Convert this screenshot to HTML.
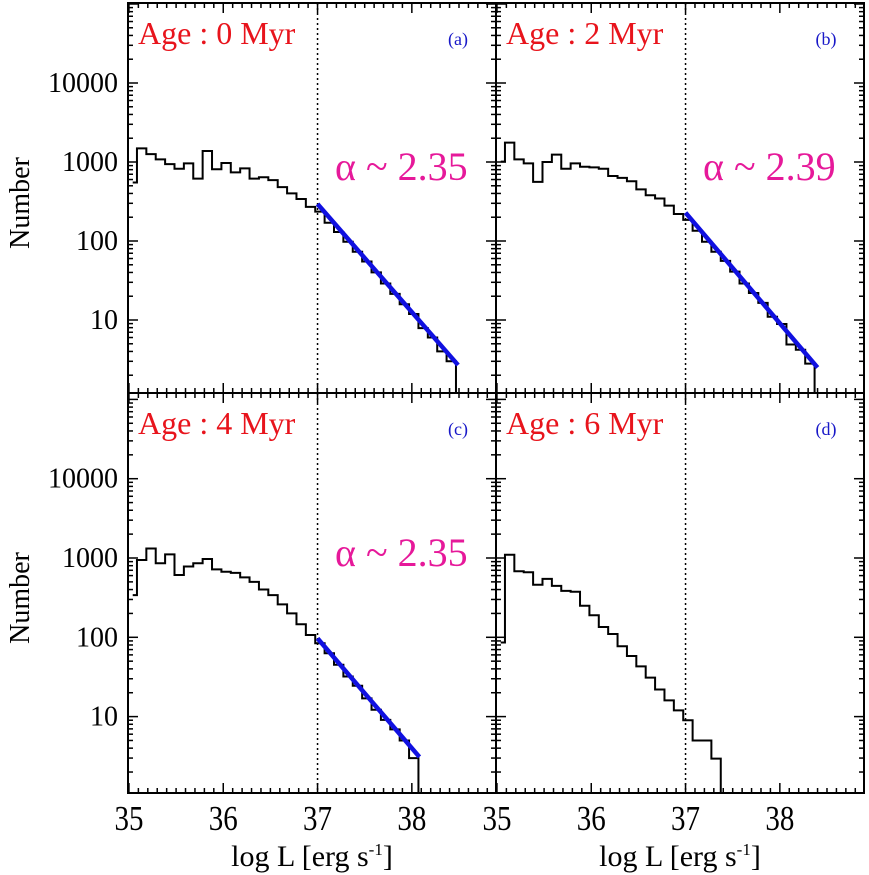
<!DOCTYPE html>
<html><head><meta charset="utf-8"><style>
html,body{margin:0;padding:0;background:#fff}
svg{display:block;font-family:"Liberation Serif","DejaVu Serif",serif}
text{font-family:"Liberation Serif","DejaVu Serif",serif}
</style></head><body>
<svg id="chart" width="869" height="875" viewBox="0 0 869 875" xmlns="http://www.w3.org/2000/svg"></svg>
<script>
const edgeStart = 35.04;
const edgeSecond = 35.085;
const binWidth = 0.0995;
const countsA = [550,1490,1260,1080,940,820,960,615,1380,810,970,740,830,615,640,590,480,400,340,270,235,170,130,98,73,55,40,29,21.4,15.8,11.9,7.9,6.0,4.0,3.0];
const countsB = [1010,1760,1080,960,560,1000,1240,820,960,870,855,820,665,630,570,450,380,345,280,220,185,135,98,73,56,41,29,22,16.5,11,8.9,4.9,4.2,2.8];
const countsC = [340,945,1320,860,1110,610,780,860,970,720,670,650,570,500,400,340,260,200,146,107,84,63,45,32,24.5,17,12.2,9.1,6.9,5.0,3.0];
const countsD = [86,1100,680,660,460,545,445,385,375,250,190,135,110,77,58,43,31,22,16,12,9,5.0,5.0,2.95];
const fitA = [37, 294, 38.49, 2.69];
const fitB = [37, 228, 38.40, 2.5];
const fitC = [37, 97, 38.08, 3.1];
const ages = ["Age : 0 Myr","Age : 2 Myr","Age : 4 Myr","Age : 6 Myr"];
const tags = ["(a)","(b)","(c)","(d)"];
const alphas = ["α ~ 2.35","α ~ 2.39","α ~ 2.35",""];
const yTicks = [10, 100, 1000, 10000];
const yTickLabels = ["10","100","1000","10000"];
const xTicks = [35, 36, 37, 38];
const xTickLabels = ["35","36","37","38"];
const cutoff = 37;

const NS = "http://www.w3.org/2000/svg";
const svg = document.getElementById('chart');
const FF = '"Liberation Serif","DejaVu Serif",serif';
function mk(tag, attrs, parent){const e=document.createElementNS(NS,tag);for(const k in attrs)e.setAttribute(k,attrs[k]);if(tag==='text')e.setAttribute('font-family',FF);(parent||svg).appendChild(e);return e;}

const XMIN = 34.99, PXU = 94.3, PW = 368;
const cols = [128, 496];
const rows = [{top:3,bot:393,ref:162,dec:79},{top:393,bot:793,ref:558,dec:79.3}];
const panels = [
 {c:0,r:0,counts:countsA,fit:fitA},
 {c:1,r:0,counts:countsB,fit:fitB},
 {c:0,r:1,counts:countsC,fit:fitC},
 {c:1,r:1,counts:countsD,fit:null}];

panels.forEach((p,i)=>{
  const x0 = cols[p.c], R = rows[p.r];
  const xs = v => x0 + (v - XMIN) * PXU;
  const ys = v => R.ref - R.dec * (Math.log10(v) - 3);
  const g = mk('g',{});
  
  
  const dl = mk('line',{x1:xs(cutoff),x2:xs(cutoff),y1:R.top,y2:R.bot,stroke:'#000','stroke-width':1.5,'stroke-dasharray':'2,3'},g);
  
  
  const edges = [edgeStart];
  for(let k=0;k<p.counts.length;k++) edges.push(edgeSecond + k*binWidth);
  let d = 'M'+xs(edges[0])+','+ys(p.counts[0]);
  p.counts.forEach((v,k)=>{ if(k>0) d+=' V'+ys(v); d+=' H'+xs(edges[k+1]); });
  d += ' V'+R.bot;
  const h = mk('path',{d:d,fill:'none',stroke:'#000','stroke-width':2},g);
  
  
  if(p.fit){
    const f = mk('line',{x1:xs(p.fit[0]),y1:ys(p.fit[1]),x2:xs(p.fit[2]),y2:ys(p.fit[3]),stroke:'#1010e0','stroke-width':4.5},g);
    
    
  }
  const fr = mk('rect',{x:x0,y:R.top,width:PW,height:R.bot-R.top,fill:'none',stroke:'#000','stroke-width':2},g);
  
  
  for(let t=350;t<=389;t++){
    const v=t/10, x=xs(v); if(x>x0+PW-1) break;
    const L = (t%10===0)?10:5;
    mk('line',{x1:x,x2:x,y1:R.bot,y2:R.bot-L,stroke:'#000','stroke-width':1.5},g);
    mk('line',{x1:x,x2:x,y1:R.top,y2:R.top+L,stroke:'#000','stroke-width':1.5},g);
  }
  for(let e=0;e<=5;e++){for(let m=1;m<=9;m++){
    const v=m*Math.pow(10,e), y=ys(v); if(y<R.top+1||y>R.bot-1) continue;
    const L=(m===1)?10:5;
    mk('line',{x1:x0,x2:x0+L,y1:y,y2:y,stroke:'#000','stroke-width':1.5},g);
    mk('line',{x1:x0+PW,x2:x0+PW-L,y1:y,y2:y,stroke:'#000','stroke-width':1.5},g);
  }}
  if(p.c===0){
    yTicks.forEach((v,k)=>{
      const t=mk('text',{x:118,y:ys(v)+9,'font-size':28,'text-anchor':'end',fill:'#000'},g);
      t.textContent=yTickLabels[k];
      
      
    });
    const yl=mk('text',{x:0,y:0,'font-size':28,'text-anchor':'middle',fill:'#000',transform:'translate(29,'+((R.top+R.bot)/2+5)+') rotate(-90)'},g);
    yl.textContent='Number';
    
    
  }
  if(p.r===1){
    xTicks.forEach((v,k)=>{
      const t=mk('text',{x:0,y:0,'font-size':29,'text-anchor':'middle',fill:'#000',transform:'translate('+xs(v)+',830) scale(1,1.2)'},g);
      t.textContent=xTickLabels[k];
      
      
    });
    const xl=mk('text',{x:x0+184,y:866,'font-size':30,'text-anchor':'middle',fill:'#000'},g);
    xl.innerHTML='log L [erg s<tspan dy="-11" font-size="17">-1</tspan><tspan dy="11">]</tspan>';
    
    
  }
  const at=mk('text',{x:x0+10,y:R.top+41,'font-size':32,fill:'#e8141c'},g);
  at.textContent=ages[i];
  
  
  const tg=mk('text',{x:x0+330,y:R.top+42,'font-size':18,'text-anchor':'middle',fill:'#1818c8'},g);
  tg.textContent=tags[i];
  
  
  if(alphas[i]){
    const al=mk('text',{x:x0+207,y:(p.r===0?R.top+177:R.top+173),'font-size':40,fill:'#e6199a'},g);
    al.textContent=alphas[i];
    
    
  }
});
</script>
</body></html>
